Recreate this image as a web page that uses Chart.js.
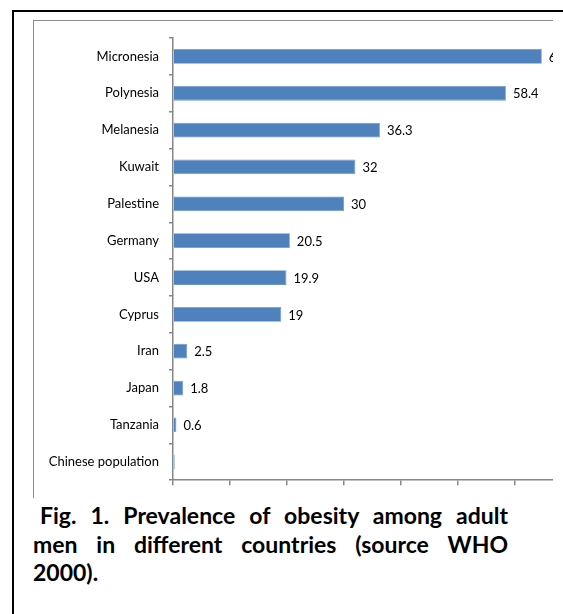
<!DOCTYPE html>
<html>
<head>
<meta charset="utf-8">
<script src="https://cdn.jsdelivr.net/npm/chart.js@4"></script>
<style>
  body { margin: 0; width: 563px; height: 614px; overflow: hidden; background: #fff; position: relative; }
  .marco { position: absolute; left: 12px; top: 10px; width: 620px; height: 700px; border: 2px solid #000; box-sizing: border-box; }
  .recorte { position: absolute; left: 33px; top: 20px; width: 520px; height: 478px; overflow: hidden;
             border-top: 1px solid #8c8c8c; border-left: 1px solid #8c8c8c; box-sizing: border-box; }
  .recorte canvas { position: absolute; left: -1px; top: -1px; }
  .pie { position: absolute; left: 33px; top: 501px; width: 475px; font-family: Lato, sans-serif;
         font-weight: bold; font-size: 23px; line-height: 28.5px; color: #000; }
  .pie div { text-align: justify; text-align-last: justify; white-space: nowrap; }
  .pie div.ultima { text-align-last: left; }
</style>
</head>
<body>
<div class="marco"></div>
<div class="recorte">
  <canvas class="grafica" width="600" height="478"></canvas>
</div>
<div class="pie">
  <div style="padding-left:7px">Fig. 1. Prevalence of obesity among adult</div>
  <div>men in different countries (source WHO</div>
  <div class="ultima">2000).</div>
</div>
<script>
let paises = ['Micronesia', 'Polynesia', 'Melanesia', 'Kuwait', 'Palestine', 'Germany',
              'USA', 'Cyprus', 'Iran', 'Japan', 'Tanzania', 'Chinese population'];
let obesidad = [64.7, 58.4, 36.3, 32, 30, 20.5, 19.9, 19, 2.5, 1.8, 0.6, 0.3];
let sinEtiqueta = ['Chinese population'];
let ticksX = [0, 10, 20, 30, 40, 50, 60, 70];

let gris = '#868686';
let fuente = { family: 'Lato', size: 13 };

// etiquetas de valor a la derecha de cada barra
let etiquetas = {
  id: 'etiquetas',
  afterDatasetsDraw(chart){
    let ctx = chart.ctx;
    let meta = chart.getDatasetMeta(0);
    ctx.save();
    ctx.font = '13px Lato';
    ctx.fillStyle = '#000';
    ctx.textBaseline = 'middle';
    meta.data.forEach((bar, i) => {
      if (sinEtiqueta.includes(paises[i])) return;
      ctx.fillText(String(obesidad[i]), bar.x + 7, bar.y + 1);
    });
    ctx.restore();
  }
};

let canvas = document.querySelector('.grafica');
let grafica = canvas.getContext('2d');

new Chart(grafica, {
  type: 'bar',
  data: {
    labels: paises,
    datasets: [{
      data: obesidad,
      backgroundColor: '#4f81bd',
      borderColor: '#6a96cc',
      borderWidth: 0.8,
      barPercentage: 0.4,
      categoryPercentage: 1
    }]
  },
  options: {
    indexAxis: 'y',
    responsive: false,
    animation: false,
    layout: { padding: { top: 18, right: 61, bottom: 10, left: 0 } },
    plugins: { legend: { display: false }, tooltip: { enabled: false } },
    scales: {
      x: {
        min: ticksX[0],
        max: ticksX[ticksX.length - 1],
        afterBuildTicks: s => { s.ticks = ticksX.map(v => ({ value: v })); },
        afterFit: s => { s.height = 6; },
        ticks: { display: false },
        grid: { drawOnChartArea: false, drawTicks: true, tickLength: 5, color: gris, lineWidth: 1.5 },
        border: { color: gris, width: 1.5 }
      },
      y: {
        afterFit: s => { s.width = 140; },
        ticks: { color: '#000', font: fuente, padding: 10 },
        grid: { offset: true, drawOnChartArea: false, drawTicks: true, tickLength: 4, color: gris, lineWidth: 1.5 },
        border: { color: gris, width: 1.5 }
      }
    }
  },
  plugins: [etiquetas]
});
</script>
</body>
</html>
